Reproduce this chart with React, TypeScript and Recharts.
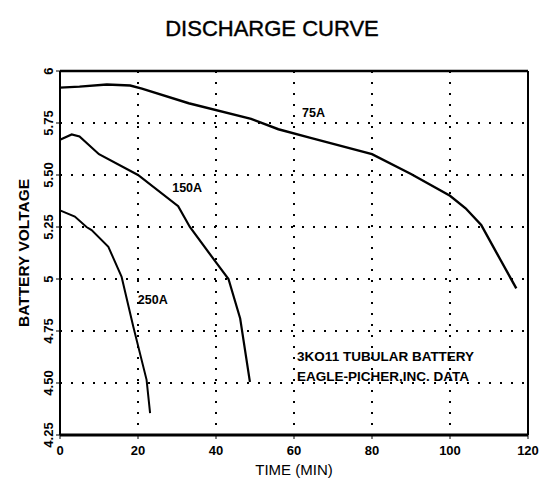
import React from "react";
import {
  LineChart, Line, XAxis, YAxis, CartesianGrid,
  ReferenceLine, ReferenceDot,
} from "recharts";

// values
const time75 = [0, 5, 12, 18, 21, 33, 49, 56, 64, 80, 90, 100, 104, 108, 113, 117];
const volt75 = [5.92, 5.925, 5.935, 5.93, 5.915, 5.845, 5.77, 5.72, 5.68, 5.6, 5.505, 5.4, 5.34, 5.26, 5.09, 4.955];

const time150 = [0, 3, 5, 10, 20, 30.3, 33.3, 40.2, 43.2, 46.2, 48.7];
const volt150 = [5.67, 5.695, 5.685, 5.6, 5.5, 5.35, 5.25, 5.075, 5.0, 4.81, 4.505];

const time250 = [0, 3.8, 6.8, 8.1, 12.4, 15.8, 18.8, 22.2, 23.1];
const volt250 = [5.33, 5.3, 5.25, 5.235, 5.155, 5.01, 4.77, 4.515, 4.355];

const xTicks = [0, 20, 40, 60, 80, 100, 120];
const yTicks = [4.25, 4.5, 4.75, 5, 5.25, 5.5, 5.75, 6];

const zip = (t: number[], v: number[]) => t.map((x, i) => ({ t: x, v: v[i] }));
const data75 = zip(time75, volt75);
const data150 = zip(time150, volt150);
const data250 = zip(time250, volt250);

const FONT = "'Liberation Sans', Arial, Helvetica, sans-serif";

const fmtY = (v: number) => (Number.isInteger(v) ? String(v) : v.toFixed(2));

// y labels are printed sideways in the original
function YTick({ y, payload }: any) {
  const x = 53;
  return (
    <text
      x={x} y={y} transform={`rotate(-90 ${x} ${y})`}
      textAnchor="middle" fill="#000"
      style={{ fontFamily: FONT, fontWeight: "bold", fontSize: 13 }}
    >
      {fmtY(payload.value)}
    </text>
  );
}

function XTick({ x, y, payload }: any) {
  return (
    <text
      x={x} y={y + 14} textAnchor="middle" fill="#000"
      style={{ fontFamily: FONT, fontWeight: "bold", fontSize: 13 }}
    >
      {payload.value}
    </text>
  );
}

const noteLabel = (value: string, anchor: "start" | "middle" = "middle", size = 12.5) => ({
  value,
  position: "center" as const,
  fill: "#000",
  textAnchor: anchor,
  style: { fontFamily: FONT, fontWeight: "bold", fontSize: size },
});

export default function App() {
  return (
    <div style={{ position: "absolute", left: 0, top: 0, width: 544, height: 482, background: "#fff" }}>
      <div
        style={{
          position: "absolute", top: 16, left: 0, width: 544, textAlign: "center",
          fontFamily: FONT, fontSize: 22, color: "#000", WebkitTextStroke: "0.4px #000",
        }}
      >
        DISCHARGE CURVE
      </div>
      <LineChart
        width={544} height={482}
        margin={{ top: 71, right: 16, bottom: 7, left: 0 }}
        style={{ position: "absolute", left: 0, top: 0 }}
      >
        <CartesianGrid
          stroke="#000" strokeWidth={2} strokeDasharray="2 9"
          verticalValues={[20, 40, 60, 80, 100]}
          horizontalValues={[4.5, 4.75, 5, 5.25, 5.5, 5.75]}
        />
        <XAxis
          dataKey="t" type="number" domain={[0, 120]} ticks={xTicks}
          allowDuplicatedCategory={false} height={40}
          tick={<XTick />} tickSize={4}
          axisLine={{ stroke: "#000", strokeWidth: 3 }} tickLine={{ stroke: "#000" }}
          label={{
            value: "TIME (MIN)", position: "insideBottom", offset: 0,
            fill: "#000", style: { fontFamily: FONT, fontSize: 15 },
          }}
        />
        <YAxis
          dataKey="v" type="number" domain={[4.25, 6]} ticks={yTicks} width={60}
          tick={<YTick />} tickSize={4}
          axisLine={{ stroke: "#000", strokeWidth: 2 }} tickLine={{ stroke: "#000" }}
          label={{
            value: "BATTERY VOLTAGE", angle: -90, position: "insideLeft", offset: 23,
            fill: "#000",
            style: { textAnchor: "middle", fontFamily: FONT, fontWeight: "bold", fontSize: 15.5 },
          }}
        />

        {/* frame on top and right */}
        <ReferenceLine y={6} stroke="#000" strokeWidth={2.5} />
        <ReferenceLine x={120} stroke="#000" strokeWidth={2} />

        <Line data={data75} dataKey="v" type="linear" stroke="#000" strokeWidth={2.4} dot={false} isAnimationActive={false} />
        <Line data={data150} dataKey="v" type="linear" stroke="#000" strokeWidth={2.2} dot={false} isAnimationActive={false} />
        <Line data={data250} dataKey="v" type="linear" stroke="#000" strokeWidth={2} dot={false} isAnimationActive={false} />

        <ReferenceDot x={65} y={5.8} r={0} fill="none" stroke="none" label={noteLabel("75A")} />
        <ReferenceDot x={32.6} y={5.44} r={0} fill="none" stroke="none" label={noteLabel("150A")} />
        <ReferenceDot x={23.8} y={4.9} r={0} fill="none" stroke="none" label={noteLabel("250A")} />
        <ReferenceDot x={60.8} y={4.63} r={0} fill="none" stroke="none" label={noteLabel("3KO11 TUBULAR BATTERY", "start", 13.5)} />
        <ReferenceDot x={60.8} y={4.535} r={0} fill="none" stroke="none" label={noteLabel("EAGLE-PICHER,INC. DATA", "start", 13.5)} />
      </LineChart>
    </div>
  );
}
